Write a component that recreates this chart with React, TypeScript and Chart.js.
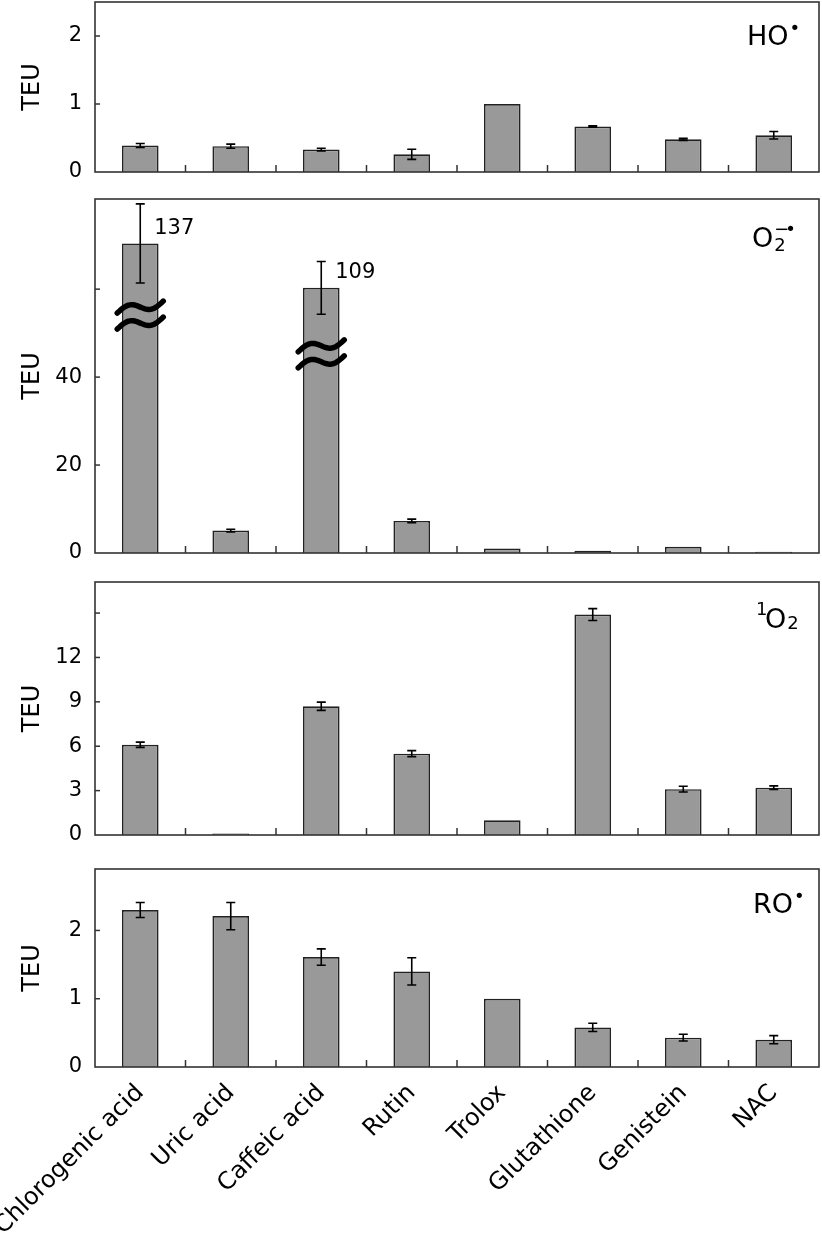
import { useEffect, useRef } from "react";
import { Chart, registerables } from "chart.js";
Chart.register(...registerables);

const categories = ["Chlorogenic acid", "Uric acid", "Caffeic acid", "Rutin", "Trolox", "Glutathione", "Genistein", "NAC"];

const hoValues = [0.39, 0.38, 0.33, 0.26, 1.0, 0.67, 0.48, 0.54];
const hoErrors = [0.03, 0.03, 0.02, 0.075, 0, 0.01, 0.015, 0.055];
const hoTicks = [0, 1, 2];
const hoTickLabels = [0, 1, 2];

const o2Values = [70.4, 5.1, 60.3, 7.3, 1.0, 0.5, 1.4, 0.3];
const o2Errors = [9, 0.3, 6, 0.4, 0, 0, 0, 0];
const o2Ticks = [0, 20, 40, 60];
const o2TickLabels = [0, 20, 40];
const o2TrueValues = ["137", "", "109", "", "", "", "", ""];
const o2BreakAt = [54.1, null, 45.3, null, null, null, null, null];

const so2Values = [6.1, 0.1, 8.7, 5.5, 1.0, 14.9, 3.1, 3.2];
const so2Errors = [0.18, 0, 0.28, 0.2, 0, 0.4, 0.19, 0.12];
const so2Ticks = [0, 3, 6, 9, 12, 15];
const so2TickLabels = [0, 3, 6, 9, 12];

const roValues = [2.3, 2.21, 1.61, 1.4, 1.0, 0.58, 0.43, 0.4];
const roErrors = [0.11, 0.2, 0.12, 0.2, 0, 0.06, 0.05, 0.06];
const roTicks = [0, 1, 2];
const roTickLabels = [0, 1, 2];

const FONT = "DejaVu Sans";

type Panel = {
  key: string;
  top: number;
  height: number;
  padTop: number;
  padBottom: number;
  max: number;
  values: number[];
  errors: number[];
  ticks: number[];
  tickLabels: number[];
  label: string;
  showX: boolean;
  trueValues?: string[];
  breakAt?: (number | null)[];
};

const panels: Panel[] = [
  { key: "ho", top: 0, height: 190, padTop: 2, padBottom: 18, max: 2.5, values: hoValues, errors: hoErrors, ticks: hoTicks, tickLabels: hoTickLabels, label: "HO", showX: false },
  { key: "o2", top: 190, height: 370, padTop: 9, padBottom: 7, max: 80.5, values: o2Values, errors: o2Errors, ticks: o2Ticks, tickLabels: o2TickLabels, label: "O2-", showX: false, trueValues: o2TrueValues, breakAt: o2BreakAt },
  { key: "so2", top: 560, height: 285, padTop: 22, padBottom: 10, max: 17.1, values: so2Values, errors: so2Errors, ticks: so2Ticks, tickLabels: so2TickLabels, label: "1O2", showX: false },
  { key: "ro", top: 845, height: 389, padTop: 24, padBottom: 0, max: 2.9, values: roValues, errors: roErrors, ticks: roTicks, tickLabels: roTickLabels, label: "RO", showX: true },
];

function makePlugin(p: Panel) {
  return {
    id: "decor_" + p.key,
    afterDatasetsDraw(chart: any) {
      const ctx = chart.ctx as CanvasRenderingContext2D;
      const area = chart.chartArea;
      const xs = chart.scales.x;
      const ys = chart.scales.y;
      const meta = chart.getDatasetMeta(0);
      ctx.save();
      // error bars
      ctx.strokeStyle = "#000";
      ctx.lineWidth = 1.6;
      p.values.forEach((v, i) => {
        const e = p.errors[i];
        if (!e) return;
        const x = meta.data[i].x;
        const y1 = ys.getPixelForValue(v + e);
        const y2 = ys.getPixelForValue(v - e);
        ctx.beginPath();
        ctx.moveTo(x, y1);
        ctx.lineTo(x, y2);
        ctx.moveTo(x - 4.5, y1);
        ctx.lineTo(x + 4.5, y1);
        ctx.moveTo(x - 4.5, y2);
        ctx.lineTo(x + 4.5, y2);
        ctx.stroke();
      });
      // breaks
      if (p.breakAt) {
        ctx.lineWidth = 5.5;
        ctx.lineCap = "round";
        p.breakAt.forEach((b, i) => {
          if (b == null) return;
          const cx = meta.data[i].x;
          const cy = ys.getPixelForValue(b);
          [-8, 8].forEach((dy) => {
            ctx.beginPath();
            for (let k = 0; k <= 40; k++) {
              const t = k / 40;
              const px = cx - 23 + 46 * t;
              const py = cy + dy - 5 * Math.sin(2 * Math.PI * t) - 12 * (t - 0.5);
              if (k === 0) ctx.moveTo(px, py);
              else ctx.lineTo(px, py);
            }
            ctx.stroke();
          });
        });
        ctx.lineCap = "butt";
      }
      // true value annotations
      if (p.trueValues) {
        ctx.fillStyle = "#000";
        ctx.font = `21px "${FONT}"`;
        ctx.textAlign = "left";
        ctx.textBaseline = "middle";
        p.trueValues.forEach((t, i) => {
          if (!t) return;
          const el = meta.data[i];
          ctx.fillText(t, el.x + 14, el.y - 15);
        });
      }
      // frame
      ctx.strokeStyle = "#333";
      ctx.lineWidth = 1.6;
      ctx.strokeRect(area.left, area.top, area.right - area.left, area.bottom - area.top);
      // y ticks (inward)
      ctx.lineWidth = 1.5;
      p.ticks.forEach((t) => {
        if (t === 0) return;
        const y = ys.getPixelForValue(t);
        ctx.beginPath();
        ctx.moveTo(area.left, y);
        ctx.lineTo(area.left + 5, y);
        ctx.stroke();
      });
      // x ticks at category boundaries (inward)
      for (let i = 0; i < categories.length - 1; i++) {
        const x = (xs.getPixelForValue(i) + xs.getPixelForValue(i + 1)) / 2;
        ctx.beginPath();
        ctx.moveTo(x, area.bottom);
        ctx.lineTo(x, area.bottom - 7);
        ctx.stroke();
      }
      // panel label
      ctx.fillStyle = "#000";
      ctx.textAlign = "left";
      ctx.textBaseline = "alphabetic";
      const big = `27px "${FONT}"`;
      const small = `18px "${FONT}"`;
      const R = area.right;
      const T = area.top;
      if (p.label === "HO") {
        ctx.font = big;
        ctx.fillText("HO", R - 72, T + 43);
        const w = ctx.measureText("HO").width;
        ctx.font = small;
        ctx.fillText("•", R - 72 + w + 1, T + 32);
      } else if (p.label === "O2-") {
        ctx.font = big;
        ctx.fillText("O", R - 67, T + 48);
        const w = ctx.measureText("O").width;
        ctx.font = small;
        ctx.fillText("2", R - 67 + w + 1, T + 52);
        ctx.fillText("−", R - 67 + w + 1, T + 36);
        ctx.fillText("•", R - 67 + w + 12, T + 36);
      } else if (p.label === "1O2") {
        ctx.font = small;
        ctx.fillText("1", R - 63, T + 33);
        ctx.font = big;
        ctx.fillText("O", R - 54, T + 46);
        const w = ctx.measureText("O").width;
        ctx.font = small;
        ctx.fillText("2", R - 54 + w + 1, T + 47);
      } else if (p.label === "RO") {
        ctx.font = big;
        ctx.fillText("RO", R - 66, T + 44);
        const w = ctx.measureText("RO").width;
        ctx.font = small;
        ctx.fillText("•", R - 66 + w + 1, T + 33);
      }
      ctx.restore();
    },
  };
}

function PanelChart({ p }: { p: Panel }) {
  const ref = useRef<HTMLCanvasElement | null>(null);
  useEffect(() => {
    if (!ref.current) return;
    const chart = new Chart(ref.current, {
      type: "bar",
      data: {
        labels: categories,
        datasets: [
          {
            data: p.values,
            backgroundColor: "#999999",
            borderColor: "#222222",
            borderWidth: 1.7,
            barPercentage: 0.405,
            categoryPercentage: 1,
          },
        ],
      },
      options: {
        animation: false,
        responsive: false,
        maintainAspectRatio: false,
        layout: { padding: { top: p.padTop, bottom: p.padBottom, left: 0, right: 3 } },
        plugins: { legend: { display: false }, tooltip: { enabled: false } },
        scales: {
          x: {
            display: p.showX,
            grid: { display: false, drawTicks: false },
            border: { display: false },
            ticks: {
              autoSkip: false,
              maxRotation: 45,
              minRotation: 45,
              padding: 12,
              color: "#000",
              font: { family: FONT, size: 24 },
            },
            afterFit: (s: any) => {
              s.height = p.showX ? 167 : 0;
              s.paddingLeft = 0;
              s.paddingRight = 0;
            },
          },
          y: {
            min: 0,
            max: p.max,
            grid: { display: false, drawTicks: false },
            border: { display: false },
            afterBuildTicks: (s: any) => {
              s.ticks = p.ticks.map((v) => ({ value: v }));
            },
            ticks: {
              padding: 13,
              color: "#000",
              font: { family: FONT, size: 21 },
              callback: (v: any) => (p.tickLabels.includes(Number(v)) ? String(v) : ""),
            },
            title: {
              display: true,
              text: "TEU",
              color: "#000",
              font: { family: FONT, size: 24 },
              padding: { top: 18, bottom: 0 },
            },
            afterFit: (s: any) => {
              s.width = 95;
              s.paddingTop = 0;
              s.paddingBottom = 0;
            },
          },
        },
      } as any,
      plugins: [makePlugin(p)],
    });
    return () => chart.destroy();
  }, [p]);
  return (
    <canvas
      ref={ref}
      width={822}
      height={p.height}
      style={{ position: "absolute", left: 0, top: p.top, width: 822, height: p.height, display: "block" }}
    />
  );
}

export default function App() {
  return (
    <div style={{ position: "absolute", left: 0, top: 0, width: 822, height: 1234, background: "#fff", overflow: "hidden" }}>
      {panels.map((p) => (
        <PanelChart key={p.key} p={p} />
      ))}
    </div>
  );
}
